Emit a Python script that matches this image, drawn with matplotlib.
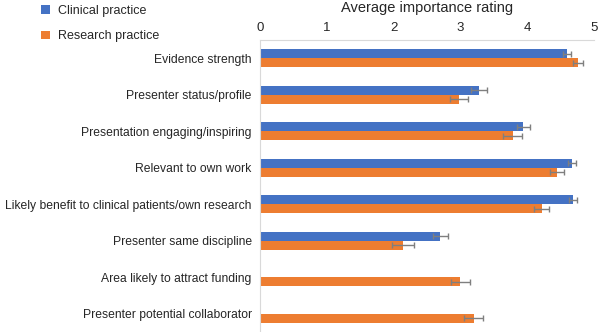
import matplotlib.pyplot as plt
import numpy as np

plt.rcParams['font.family'] = ['Liberation Sans', 'DejaVu Sans']

categories = ['Evidence strength', 'Presenter status/profile', 'Presentation engaging/inspiring',
              'Relevant to own work', 'Likely benefit to clinical patients/own research',
              'Presenter same discipline', 'Area likely to attract funding',
              'Presenter potential collaborator']
clinical = [4.59, 3.28, 3.94, 4.675, 4.69, 2.70, np.nan, np.nan]
clinical_err = [0.06, 0.12, 0.095, 0.06, 0.06, 0.11, np.nan, np.nan]
research = [4.76, 2.975, 3.78, 4.45, 4.215, 2.14, 3.0, 3.2]
research_err = [0.08, 0.135, 0.145, 0.105, 0.115, 0.16, 0.14, 0.14]

blue = '#4472C4'
orange = '#ED7D31'
err_col = '#7F7F7F'

fig = plt.figure(figsize=(5.98, 3.32), dpi=100)
ax = fig.add_axes([260 / 598, 0, 334 / 598, 1 - 40 / 332])

y = np.arange(len(categories))
h = 0.24
ekw = dict(ecolor=err_col, elinewidth=1, capsize=2.5, capthick=1)
ax.barh(y - h / 2, clinical, height=h, color=blue, xerr=clinical_err, error_kw=ekw,
        label='Clinical practice')
ax.barh(y + h / 2, research, height=h, color=orange, xerr=research_err, error_kw=ekw,
        label='Research practice')

ax.set_xlim(0, 5)
ax.set_ylim(len(categories) - 0.5, -0.5)
ax.set_yticks(y)
ax.set_yticklabels(categories, fontsize=8.75, color='#262626')
ax.xaxis.tick_top()
ax.set_xticks(range(6))
ax.tick_params(axis='x', length=0, labelsize=9.5, pad=4, colors='#262626')
ax.tick_params(axis='y', length=0, pad=6)

for s in ['right', 'bottom']:
    ax.spines[s].set_visible(False)
for s in ['top', 'left']:
    ax.spines[s].set_color('#D9D9D9')
    ax.spines[s].set_linewidth(0.8)

fig.text(427 / 598, 1 - 8 / 332, 'Average importance rating', ha='center', va='center',
         fontsize=10.5, color='#262626')

fig.legend(loc='upper left', bbox_to_anchor=(30 / 598, 1.02), frameon=False, fontsize=9,
           handlelength=0.7, handleheight=0.7, handletextpad=0.6, labelspacing=1.1,
           labelcolor='#262626')

fig.savefig('out.png', dpi=100)
